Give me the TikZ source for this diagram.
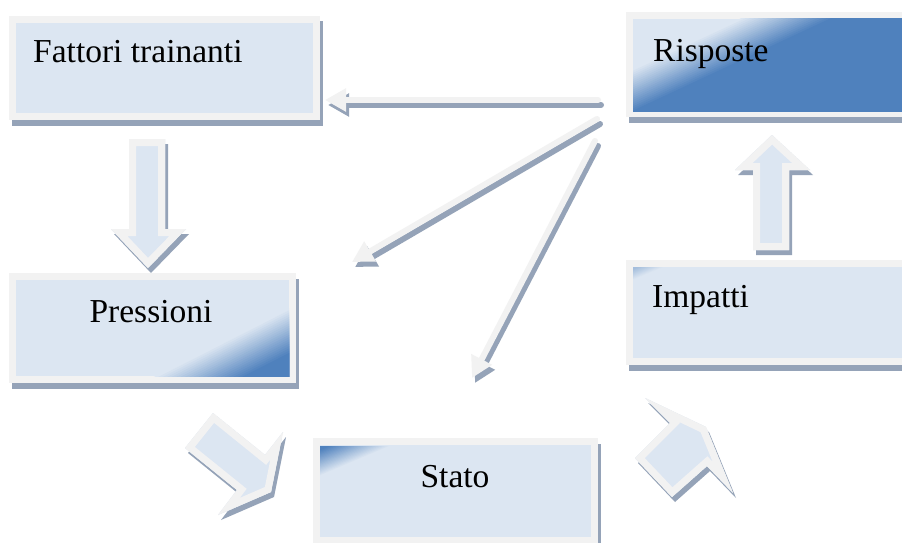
\documentclass[tikz,border=0pt]{standalone}
\usepackage{fontspec}
\setmainfont{Liberation Serif}
\usetikzlibrary{arrows.meta,shadows}

\definecolor{framegray}{HTML}{F2F2F2}
\definecolor{boxfill}{HTML}{DCE6F2}
\definecolor{boxblue}{HTML}{4F81BD}
\definecolor{shadowgray}{HTML}{95A3B8}

% Block arrow: shadow, light frame, pale fill inset by the frame width
\newcommand\myblockarrow[1]{%
  \fill[shadowgray, shift={(3,5)}] #1;
  \fill[framegray] #1;
  \begin{scope}
    \clip #1;
    \filldraw[fill=boxfill, draw=framegray, line width=14pt, line join=miter] #1;
  \end{scope}}

% Linear colour band inside a clipped rectangle
% #1 clip path, #2 origin, #3/#4 direction (x, y downwards), #5 first edge,
% #6 step between stripes, #7 far end, #8 percent of blue per stripe
\newcommand\mybandfill[8]{%
  \begin{scope}
    \clip #1;
    \begin{scope}[shift={#2}, x={(#3pt,-#4pt)}, y={(#4pt,#3pt)}]
      \foreach \i in {0,...,20}{%
        \pgfmathsetmacro\sa{#5+\i*#6}%
        \pgfmathtruncatemacro\pc{\i*#8}%
        \fill[boxblue!\pc!boxfill] (\sa,-600) -- (#7,-600) -- (#7,600) -- (\sa,600) -- cycle;
      }
    \end{scope}
  \end{scope}}

\tikzset{
  boxframe/.style={rectangle, fill=framegray, inner sep=0pt, outer sep=0pt,
    general shadow={fill=shadowgray, shadow xshift=3pt, shadow yshift=-5.5pt}},
  boxtext/.style={inner sep=0pt, text=black, font=\fontsize{33.5}{40}\selectfont},
  feedback/.style={draw=framegray, line width=6pt, line cap=round,
    -{Triangle[length=21pt,width=22pt]}},
  feedbackshadow/.style={feedback, draw=shadowgray,
    transform canvas={shift={(3pt,-5pt)}}},
}

\begin{document}
\begin{tikzpicture}[x=1pt, y=-1pt]
\fill[white] (0,0) rectangle (902,543);
\useasboundingbox (0,0) rectangle (902,543);

% ---- block arrows of the main cycle ----
\myblockarrow{(129,139) -- (165,139) -- (165,229) -- (186,229) -- (148,268) -- (111,229) -- (129,229) -- cycle}
\myblockarrow{(753,250) -- (789,250) -- (789,170) -- (810,170) -- (772,135) -- (735,170) -- (753,170) -- cycle}
\myblockarrow{(213,413) -- (265,455) -- (283,432) -- (271,492) -- (218,515) -- (237,490) -- (185,448) -- cycle}
\myblockarrow{(635,458) -- (670,423) -- (645,398) -- (706,427) -- (733,493) -- (707,466) -- (672,497) -- cycle}

% ---- boxes ----
\node[boxframe, minimum width=311pt, minimum height=104pt] (fattori) at (164.5,68) {};
\node[boxframe, minimum width=287pt, minimum height=110pt] (pressioni) at (152.5,328) {};
\node[boxframe, minimum width=285pt, minimum height=106pt] (stato) at (455.5,491) {};
\node[boxframe, minimum width=300pt, minimum height=105pt] (risposte) at (776,64.5) {};
\node[boxframe, minimum width=300pt, minimum height=105pt] (impatti) at (776,312.5) {};

\foreach \b in {fattori,pressioni,stato,risposte,impatti}{
  \fill[boxfill] ([shift={(7pt,-7pt)}]\b.north west) rectangle ([shift={(-7pt,7pt)}]\b.south east);
}

% colour bands
\mybandfill{(633,19) rectangle (920,111)}{(633,19)}{0.423}{0.906}{45}{1.9}{900}{5}
\mybandfill{(16,280) rectangle (289,376)}{(16,280)}{0.454}{0.891}{149}{2}{900}{5}
\mybandfill{(320,446) rectangle (592,545)}{(320,446)}{0.39}{0.92}{28}{-1.2}{-900}{5}
\mybandfill{(633,267) rectangle (920,358)}{(633,267)}{0.39}{0.92}{12}{-0.5}{-900}{2}

% ---- labels ----
\node[boxtext, anchor=base west] (tfattori) at (33,63) {Fattori trainanti};
\node[boxtext, anchor=base] (tpressioni) at (151,322) {Pressioni};
\node[boxtext, anchor=base] (tstato) at (455,487) {Stato};
\node[boxtext, anchor=base west] (trisposte) at (653,62) {Risposte};
\node[boxtext, anchor=base west] (timpatti) at (652,307) {Impatti};

% ---- feedback arrows from the responses ----
\coordinate (r1) at (598,100);
\coordinate (f1) at (325,100);
\coordinate (r2) at (597,119);
\coordinate (p2) at (352,262);
\coordinate (r3) at (595,141);
\coordinate (s3) at (472,378);

\draw[feedbackshadow] (r1) -- (f1);
\draw[feedbackshadow] (r2) -- (p2);
\draw[feedbackshadow] (r3) -- (s3);
\draw[feedback] (r1) -- (f1);
\draw[feedback] (r2) -- (p2);
\draw[feedback] (r3) -- (s3);
\end{tikzpicture}
\end{document}
